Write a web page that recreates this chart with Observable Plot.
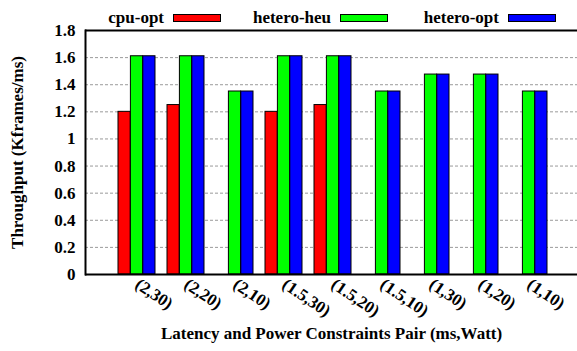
<!DOCTYPE html>
<html>
<head>
<meta charset="utf-8">
<script src="https://cdn.jsdelivr.net/npm/d3@7"></script>
<script src="https://cdn.jsdelivr.net/npm/@observablehq/plot@0.6"></script>
<style>
  html, body { margin: 0; padding: 0; background: #fff; overflow: hidden; }
  #wrap { position: relative; width: 577px; height: 351px; font-family: "Liberation Serif", "Times New Roman", serif; font-weight: bold; }
  .leg { position: absolute; top: 8px; display: flex; align-items: center; font-size: 17px; line-height: 20px; color: #000; white-space: nowrap; }
  .leg .sw { display: inline-block; width: 46px; height: 6px; border: 1px solid #000; margin-left: 9px; }
</style>
</head>
<body>
<div id="wrap"></div>
<script>
const categories = ["(2,30)", "(2,20)", "(2,10)", "(1.5,30)", "(1.5,20)", "(1.5,10)", "(1,30)", "(1,20)", "(1,10)"];
const seriesNames = ["cpu-opt", "hetero-heu", "hetero-opt"];
const seriesColors = ["#ff0000", "#00ff00", "#0000ff"];
const cpuOpt    = [1.20, 1.25, 0, 1.20, 1.25, 0, 0, 0, 0];
const heteroHeu = [1.61, 1.61, 1.35, 1.61, 1.61, 1.35, 1.475, 1.475, 1.35];
const heteroOpt = [1.61, 1.61, 1.35, 1.61, 1.61, 1.35, 1.475, 1.475, 1.35];
const yTicks = [0, 0.2, 0.4, 0.6, 0.8, 1, 1.2, 1.4, 1.6, 1.8];
const gridTicks = [0.2, 0.4, 0.6, 0.8, 1, 1.2, 1.4, 1.6];
const xTitle = "Latency and Power Constraints Pair (ms,Watt)";
const yTitle = "Throughput (Kframes/ms)";

const seriesValues = [cpuOpt, heteroHeu, heteroOpt];
const tables = seriesValues.map((vals, s) => categories.map((c, i) => ({cat: c, series: seriesNames[s], value: vals[i]})));

const third = 12.4;
const font = "'Liberation Serif', 'Times New Roman', serif";
const fs = 17;

const barMarks = tables.map((t, s) => Plot.barY(t, {
  x: "cat", y: "value",
  fill: seriesColors[s], stroke: "#000", strokeWidth: 1,
  insetLeft: third, insetRight: third,
  dx: (s - 1) * third
}));

const chart = Plot.plot({
  width: 577,
  height: 351,
  marginTop: 30,
  marginBottom: 77,
  marginLeft: 85,
  marginRight: 0,
  style: {fontFamily: font, fontWeight: "bold", fontSize: fs + "px", color: "#000", background: "#fff"},
  x: {domain: categories, range: [85, 580.5], paddingInner: 0.25, paddingOuter: 0.62, label: null},
  y: {domain: [0, 1.8], label: null},
  marks: [
    Plot.gridY(gridTicks, {stroke: "#9a9a9a", strokeOpacity: 1, strokeDasharray: "3,2"}),
    ...barMarks,
    Plot.ruleY([0, 1.8], {stroke: "#000", strokeWidth: 2}),
    Plot.frame({anchor: "left", stroke: "#000", strokeWidth: 2}),
    Plot.axisY({ticks: yTicks, tickSize: 0, tickPadding: 10, tickFormat: d => d3.format("~g")(d), label: null, fontSize: fs, fontWeight: "bold", fontFamily: font}),
    Plot.axisX({tickSize: 0, tickPadding: 8, tickRotate: 34, label: null, fontSize: fs, fontWeight: "bold", fontFamily: font}),
    Plot.text([xTitle], {frameAnchor: "bottom", dy: 64, fontSize: fs, fontWeight: "bold", fill: "#000", fontFamily: font}),
    Plot.text([yTitle], {frameAnchor: "left", dx: -68, rotate: -90, textAnchor: "middle", fontSize: fs, fontWeight: "bold", fill: "#000", fontFamily: font})
  ]
});

const wrap = document.getElementById("wrap");
wrap.appendChild(chart);

const legendRights = [221, 388, 556];
seriesNames.forEach((name, i) => {
  const d = document.createElement("div");
  d.className = "leg";
  d.style.right = (577 - legendRights[i]) + "px";
  const t = document.createElement("span");
  t.textContent = name;
  const sw = document.createElement("span");
  sw.className = "sw";
  sw.style.background = seriesColors[i];
  d.appendChild(t);
  d.appendChild(sw);
  wrap.appendChild(d);
});
</script>
</body>
</html>
